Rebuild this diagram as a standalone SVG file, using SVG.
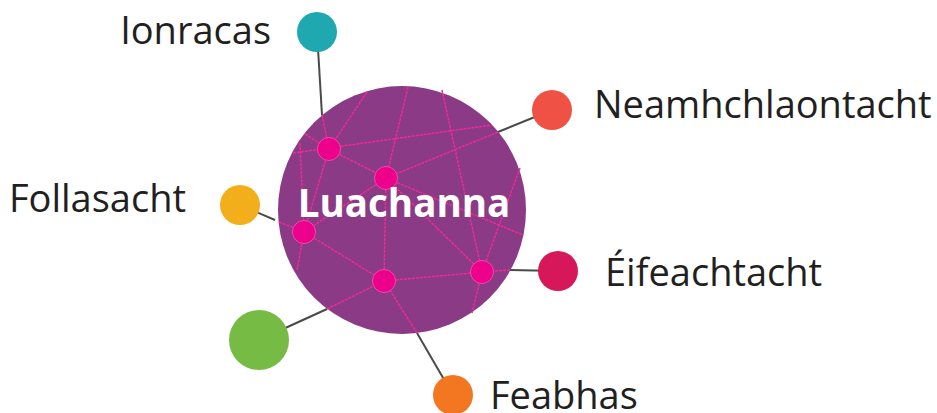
<svg xmlns="http://www.w3.org/2000/svg" width="937" height="413" viewBox="0 0 937 413">
<style>
.lbl{font-family:"Open Sans","Liberation Sans",sans-serif;font-size:38px;fill:#231f20}
.gl{stroke:#4a4a4a;stroke-width:2;fill:none}
.pl{stroke:#ee2a94;stroke-width:1.5;fill:none;stroke-dasharray:3 1}
.nd{fill:#ec008c;stroke:#f24aa6;stroke-width:1}
</style>
<rect width="937" height="413" fill="#ffffff"/>
<g id="connectors">
<line class="gl" x1="317" y1="32" x2="322" y2="115"/>
<line class="gl" x1="552" y1="110" x2="498" y2="132"/>
<line class="gl" x1="240" y1="205" x2="275" y2="220"/>
<line class="gl" x1="558" y1="271" x2="510" y2="270"/>
<line class="gl" x1="259" y1="340" x2="327" y2="309"/>
<line class="gl" x1="453" y1="395" x2="417" y2="333"/>
</g>
<g id="hub">
<circle cx="402" cy="210" r="124" fill="#8b3a86"/>
<g id="network">
<line class="pl" x1="322" y1="115" x2="329" y2="149"/>
<line class="pl" x1="498" y1="132" x2="386" y2="178"/>
<line class="pl" x1="279" y1="222" x2="304" y2="232"/>
<line class="pl" x1="510" y1="270" x2="482" y2="272"/>
<line class="pl" x1="327" y1="309" x2="384" y2="281"/>
<line class="pl" x1="417" y1="333" x2="384" y2="281"/>
<line class="pl" x1="367" y1="92" x2="329" y2="149"/>
<line class="pl" x1="305" y1="134" x2="329" y2="149"/>
<line class="pl" x1="293" y1="153" x2="492" y2="125"/>
<line class="pl" x1="300" y1="143" x2="304" y2="232"/>
<line class="pl" x1="329" y1="149" x2="304" y2="232"/>
<line class="pl" x1="329" y1="149" x2="386" y2="178"/>
<line class="pl" x1="408" y1="87" x2="386" y2="178"/>
<line class="pl" x1="386" y1="178" x2="304" y2="232"/>
<line class="pl" x1="386" y1="178" x2="384" y2="281"/>
<line class="pl" x1="386" y1="178" x2="482" y2="272"/>
<line class="pl" x1="386" y1="178" x2="523" y2="235"/>
<line class="pl" x1="442" y1="90" x2="482" y2="272"/>
<line class="pl" x1="520" y1="168" x2="482" y2="272"/>
<line class="pl" x1="482" y1="272" x2="472" y2="313"/>
<line class="pl" x1="304" y1="232" x2="297" y2="270"/>
<line class="pl" x1="304" y1="232" x2="384" y2="281"/>
<line class="pl" x1="384" y1="281" x2="482" y2="272"/>
</g>
<circle class="nd" cx="329" cy="149" r="11.5"/>
<circle class="nd" cx="386" cy="178" r="11.5"/>
<circle class="nd" cx="304" cy="232" r="11.5"/>
<circle class="nd" cx="384" cy="281" r="11.5"/>
<circle class="nd" cx="482" cy="272" r="11.5"/>
<text x="404" y="217" text-anchor="middle" font-family="'Open Sans','Liberation Sans',sans-serif" font-weight="bold" font-size="38.5" fill="#ffffff">Luachanna</text>
</g>
<g id="n-ionracas">
<circle cx="317" cy="32" r="20" fill="#1fa8b0"/>
<text class="lbl" x="271" y="44" text-anchor="end">Ionracas</text>
</g>
<g id="n-neamhchlaontacht">
<circle cx="552" cy="110" r="20" fill="#ef5245"/>
<text class="lbl" x="594" y="118">Neamhchlaontacht</text>
</g>
<g id="n-follasacht">
<circle cx="240" cy="205" r="20" fill="#f3ae1c"/>
<text class="lbl" x="186" y="212" text-anchor="end">Follasacht</text>
</g>
<g id="n-eifeachtacht">
<circle cx="558" cy="271" r="20" fill="#d6185a"/>
<text class="lbl" x="605" y="286">Éifeachtacht</text>
</g>
<g id="n-green">
<circle cx="259" cy="340" r="30" fill="#76bb43"/>
</g>
<g id="n-feabhas">
<circle cx="453" cy="395" r="20" fill="#f37721"/>
<text class="lbl" x="490" y="409">Feabhas</text>
</g>
</svg>
